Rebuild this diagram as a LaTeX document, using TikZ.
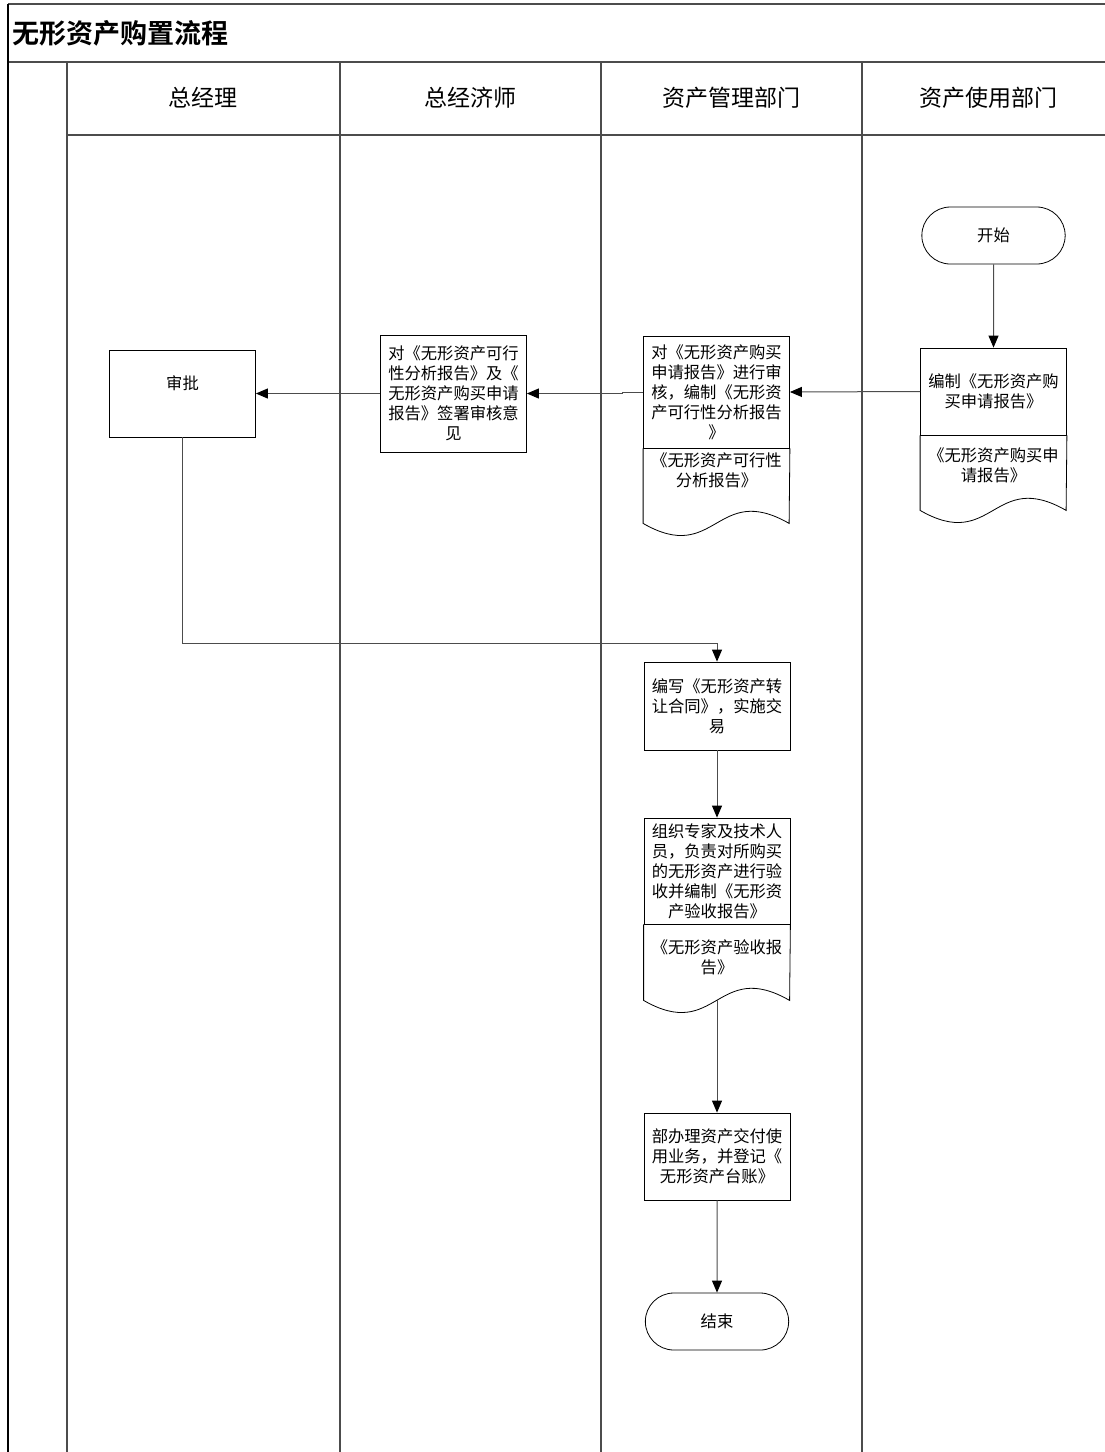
\documentclass[tikz,border=0pt]{standalone}
\usepackage{fontspec}
\setmainfont{Noto Sans CJK SC}
\newfontfamily\titlefont{Noto Sans CJK SC Bold}
\usetikzlibrary{positioning, arrows.meta, shapes.misc}

\begin{document}
\begin{tikzpicture}[x = 1pt, y = -1pt,
    every node/.style = { align = center, font = \fontsize{16.3}{20}\selectfont },
    lane/.style = { draw = black!70, line width = 1.3pt },
    proc/.style = { draw, line width = .8pt, text width = 138pt, inner xsep = 4pt },
    term/.style = { draw, line width = .8pt, rounded rectangle, minimum width = 150pt, minimum height = 57pt },
    head/.style = { font = \fontsize{23}{26}\selectfont },
    wave/.style = { draw, line width = .8pt },
    flow/.style = { draw = black!70, line width = 1pt, -{Triangle[length = 12pt, width = 10pt, color = black]} }]

    \useasboundingbox (0,0) rectangle (1105,1452);

    % frame and lanes
    \draw[lane] (8,4) -- (1105,4);
    \draw[lane] (8,62) -- (1105,62);
    \draw[lane] (67,135) -- (1105,135);
    \draw[line width = 2pt] (8,4) -- (8,1452);
    \foreach \x in {67, 340, 601, 862}
      \draw[lane] (\x,62) -- (\x,1452);

    \node[anchor = west, font = \titlefont\fontsize{27}{30}\selectfont] (title) at (9,33) {无形资产购置流程};
    \node[head] (gm)   at (203,98) {总经理};
    \node[head] (ce)   at (470,98) {总经济师};
    \node[head] (amd)  at (731,98) {资产管理部门};
    \node[head] (aud)  at (988,98) {资产使用部门};

    % steps
    \node[term] (start) at (993.5,235.5) {开始};
    \node[proc, minimum height = 87pt] (apply) at (993.5,391.5) {编制《无形资产购\\买申请报告》};
    \node (applydoc) at (993.5,465) {《无形资产购买申\\请报告》};
    \draw[wave] (apply.south west) -- ++(0,75) .. controls +(73,42) and +(-73,-42) .. ++(146,0) -- (apply.south east);

    \node[proc, minimum height = 112pt] (review) at (716.5,392) {对《无形资产购买\\申请报告》进行审\\核，编制《无形资\\产可行性分析报告\\》};
    \node (reviewdoc) at (716.5,470) {《无形资产可行性\\分析报告》};
    \draw[wave] (review.south west) -- ++(0,75) .. controls +(73,42) and +(-73,-42) .. ++(146,0) -- (review.south east);

    \node[proc, minimum height = 117pt] (opinion) at (453.5,393.5) {对《无形资产可行\\性分析报告》及《\\无形资产购买申请\\报告》签署审核意\\见};

    \node[proc, minimum height = 87pt] (approve) at (182.5,393.5) {审批\\[2pt]\mbox{}};

    \node[proc, minimum height = 88pt] (contract) at (717,706) {编写《无形资产转\\让合同》，实施交\\易};

    \node[proc, minimum height = 106pt] (accept) at (717,871) {组织专家及技术人\\员，负责对所购买\\的无形资产进行验\\收并编制《无形资\\产验收报告》};
    \node (acceptdoc) at (717,957) {《无形资产验收报\\告》};
    \draw[wave] (accept.south west) -- ++(0,76) .. controls +(73,42) and +(-73,-42) .. ++(146,0) -- (accept.south east);
    \coordinate (acceptend) at (717,1000);

    \node[proc, minimum height = 87pt] (handover) at (717,1156.5) {部办理资产交付使\\用业务，并登记《\\无形资产台账》};

    \node[term] (finish) at (717,1321.5) {结束};

    % connectors
    \draw[flow] (start) -- (apply);
    \draw[flow] (apply.west) -- (review.east);
    \draw[flow] (review.west) -- ++(-21,0) |- (opinion.east);
    \draw[flow] (opinion.west) -- (approve.east);
    \draw[flow] (approve.south) -- ++(0,206) -| (contract.north);
    \draw[flow] (contract) -- (accept);
    \draw[flow] (acceptend) -- (handover);
    \draw[flow] (handover) -- (finish);
\end{tikzpicture}
\end{document}
